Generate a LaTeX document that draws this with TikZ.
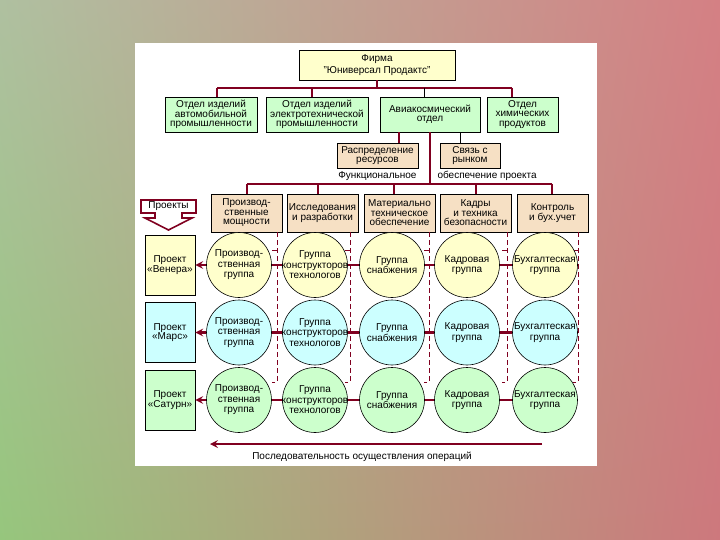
\documentclass[tikz,border=0pt]{standalone}
\usepackage{fontspec}
\setmainfont{Liberation Sans}
\usepackage{tikz}
\usetikzlibrary{arrows,shapes,positioning,shadings}
\definecolor{ogred}{RGB}{128,0,32}
\definecolor{ogyellow}{RGB}{255,255,204}
\definecolor{oggreen}{RGB}{204,255,204}
\definecolor{ogcyan}{RGB}{204,255,255}
\definecolor{ogtan}{RGB}{246,224,196}
\definecolor{bgul}{RGB}{175,192,160}
\definecolor{bgur}{RGB}{212,128,132}
\definecolor{bgll}{RGB}{150,198,125}
\definecolor{bglr}{RGB}{205,120,125}
\tikzstyle{link} = [line width=2.4pt, color=ogred]
\tikzstyle{thinlink} = [line width=0.8pt, color=black]
\tikzstyle{dashlink} = [line width=0.7pt, color=ogred, dash pattern=on 5pt off 3pt]
\tikzstyle{unit} = [rectangle, draw=black, line width=0.6pt, inner sep=1pt, align=center]
\tikzstyle{project} = [unit, minimum width=50pt, minimum height=60pt]
\tikzstyle{group} = [circle, draw=black, line width=0.6pt, minimum size=65pt, inner sep=-4pt, align=center, font=\fontsize{10}{10.5}\selectfont]

\begin{document}
\begin{tikzpicture}[x=1pt, y=-1pt, font=\fontsize{10}{9.5}\selectfont]
\useasboundingbox (0,0) rectangle (720,540);
\shade[upper left=bgul, upper right=bgur, lower left=bgll, lower right=bglr] (0,0) rectangle (720,540);
\fill[white] (135,43) rectangle (597,466);

% Firm and divisions
\node[unit, fill=ogyellow, minimum width=156pt, minimum height=30pt, font=\fontsize{10}{12.5}\selectfont] (firm) at (377,65) {Фирма\\"Юниверсал Продактс"};
\node[unit, fill=oggreen, minimum width=92pt, minimum height=35pt] (dept1) at (211,114.5) {Отдел изделий\\автомобильной\\промышленности};
\node[unit, fill=oggreen, minimum width=102pt, minimum height=35pt] (dept2) at (317,114.5) {Отдел изделий\\электротехнической\\промышленности};
\node[unit, fill=oggreen, minimum width=100pt, minimum height=35pt] (dept3) at (430,114.5) {Авиакосмический\\отдел};
\node[unit, fill=oggreen, minimum width=71pt, minimum height=35pt] (dept4) at (522.5,114.5) {Отдел\\химических\\продуктов};

\coordinate (j1) at (217,88);
\coordinate (j2) at (312,88);
\coordinate (j3) at (424,88);
\coordinate (j4) at (512,88);
\draw[link] (firm) -- (firm |- j1);
\draw[link] (j1) -- (j4);
\draw[link] (j1) -- (j1 |- dept1.north);
\draw[link] (j2) -- (j2 |- dept2.north);
\draw[thinlink] (j3) -- (j3 |- dept3.north);
\draw[link] (j4) -- (j4 |- dept4.north);

% Staff of the aerospace division
\node[unit, fill=ogtan, minimum width=81pt, minimum height=25pt] (res) at (377.5,155.5) {Распределение\\ресурсов};
\node[unit, fill=ogtan, minimum width=60pt, minimum height=25pt] (mkt) at (470,155.5) {Связь с\\рынком};
\coordinate (s1) at (399,0);
\coordinate (s2) at (460,0);
\draw[link] (dept3.south -| s1) -- (res.north -| s1);
\draw[thinlink] (dept3.south -| s2) -- (mkt.north -| s2);

\node[anchor=east] (funcl) at (420,176) {Функциональное};
\node[anchor=west] (funcr) at (434,176) {обеспечение проекта};

% Functional units
\node[unit, fill=ogtan, minimum width=71pt, minimum height=38pt] (fun1) at (246.5,213) {Производ-\\ственные\\мощности};
\node[unit, fill=ogtan, minimum width=71pt, minimum height=38pt] (fun2) at (322.5,213) {Исследования\\и разработки};
\node[unit, fill=ogtan, minimum width=71pt, minimum height=38pt] (fun3) at (399.5,213) {Материально\\техническое\\обеспечение};
\node[unit, fill=ogtan, minimum width=71pt, minimum height=38pt] (fun4) at (475.5,213) {Кадры\\и техника\\безопасности};
\node[unit, fill=ogtan, minimum width=71pt, minimum height=38pt] (fun5) at (552.5,213) {Контроль\\и бух.учет};

\coordinate (f1) at (247,184);
\coordinate (f2) at (318,184);
\coordinate (f3) at (394,184);
\coordinate (f4) at (476,184);
\coordinate (f5) at (552,184);
\coordinate (trunk) at (430,184);
\draw[link] (dept3.south -| trunk) -- (trunk);
\draw[link] (f1) -- (f5);
\draw[link] (f1) -- (f1 |- fun1.north);
\draw[link] (f2) -- (f2 |- fun2.north);
\draw[link] (f3) -- (f3 |- fun3.north);
\draw[link] (f4) -- (f4 |- fun4.north);
\draw[link] (f5) -- (f5 |- fun5.north);

\foreach \x in {277,350,429,507,578} {
  \draw[dashlink] (\x,232) -- (\x,382) -- (\x-5,382);
  \draw[dashlink] (\x-5,250) -- (\x,250);
}

% Projects
\draw[ogred, line width=1.6pt, fill=white] (141,200) -- (196,200) -- (196,213) -- (182,213) -- (182,218) -- (192,218) -- (168.5,230) -- (145,218) -- (155,218) -- (155,213) -- (141,213) -- cycle;
\node (projs) at (168.5,206.5) {Проекты};

\foreach \row/\ypos/\rowcol/\pname in {1/265/ogyellow/«Венера», 2/332.5/ogcyan/«Марс», 3/400/oggreen/«Сатурн»} {
  \node[project, fill=\rowcol] (p\row) at (170,\ypos) {Проект\\\pname};
  \node[group, fill=\rowcol] (g\row1) at (239,\ypos) {Производ-\\ственная\\группа};
  \node[group, fill=\rowcol] (g\row2) at (315,\ypos) {Группа\\конструкторов\\технологов};
  \node[group, fill=\rowcol] (g\row3) at (392,\ypos) {Группа\\снабжения};
  \node[group, fill=\rowcol] (g\row4) at (467,\ypos) {Кадровая\\группа};
  \node[group, fill=\rowcol] (g\row5) at (545,\ypos) {Бухгалтеская\\группа};
  \draw[link, ->, >=stealth] (g\row1) -- (p\row);
  \draw[link] (g\row1) -- (g\row2);
  \draw[link] (g\row2) -- (g\row3);
  \draw[link] (g\row3) -- (g\row4);
  \draw[link] (g\row4) -- (g\row5);
}

% Sequence of operations
\coordinate (seqr) at (542,444);
\coordinate (seql) at (210,444);
\draw[link, ->, >=stealth] (seqr) -- (seql);
\node (seq) at (362,457) {Последовательность осуществления операций};
\end{tikzpicture}
\end{document}
